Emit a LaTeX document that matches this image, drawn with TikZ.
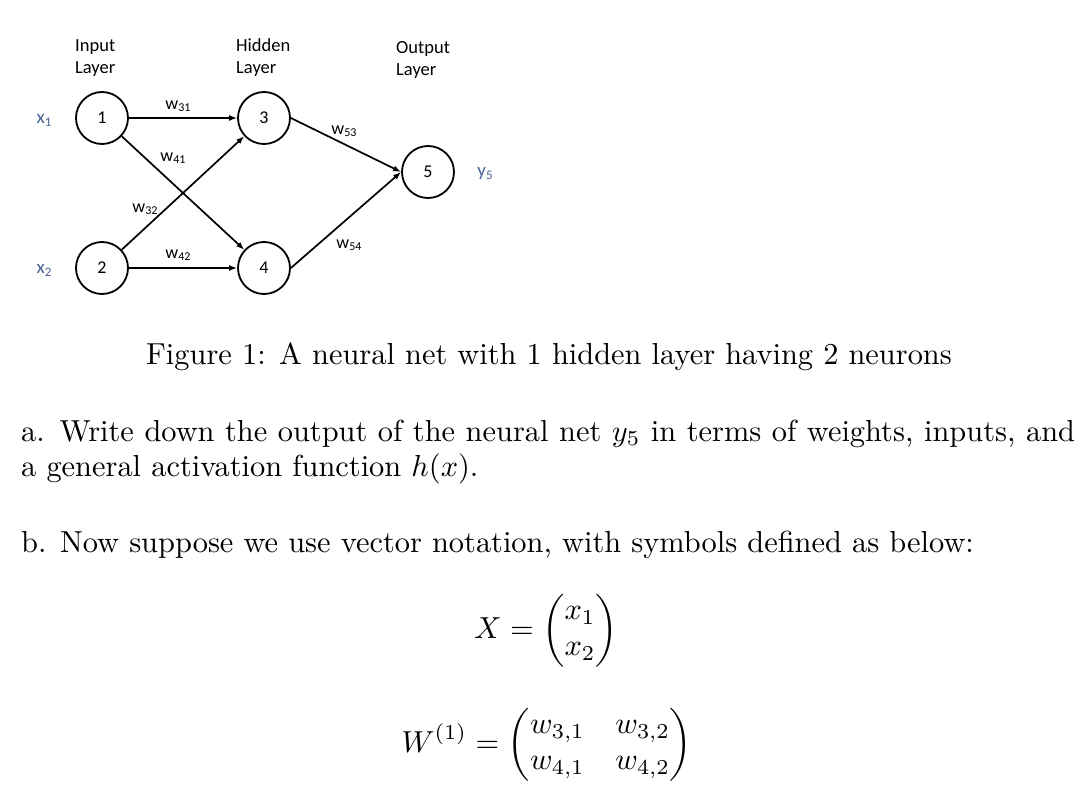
\documentclass[tikz,border=0pt]{standalone}
\usepackage{amsmath}
\usepackage{graphicx}
\usepackage{fontspec}
\newfontfamily\carl{Carlito}
\usetikzlibrary{arrows.meta}
\definecolor{xblue}{RGB}{70,96,150}
\newcommand\wsub[1]{w\raisebox{-2.5pt}{\fontsize{12}{12}\selectfont#1}}
\newcommand\sbx[1]{\scalebox{3.04}{#1}}
\tikzset{
 neuron/.style={circle, draw, line width=1.8pt, minimum size=52pt, inner sep=0pt, font=\carl\fontsize{18}{18}\selectfont},
 lbl/.style={font=\carl\fontsize{18.5}{21}\selectfont, anchor=base west, inner sep=0pt},
 wl/.style={font=\carl\fontsize{18}{18}\selectfont, inner sep=0pt},
 xl/.style={font=\carl\fontsize{19}{19}\selectfont, text=xblue, inner sep=0pt},
 conn/.style={line width=1.7pt, -{Latex[length=8pt,width=6pt]}},
 body/.style={font=\normalsize, inner sep=0pt, anchor=base west},
 eqn/.style={font=\normalsize, inner sep=0pt, anchor=base}
}
\begin{document}
\begin{tikzpicture}[x=1pt,y=-1pt]
\useasboundingbox[fill=white] (0,0) rectangle (1092,808);
% layer labels
\node[lbl] (il1) at (75,52) {Input};
\node[lbl] (il2) at (75,74) {Layer};
\node[lbl] (hl1) at (236,52) {Hidden};
\node[lbl] (hl2) at (236,74) {Layer};
\node[lbl] (ol1) at (396,53) {Output};
\node[lbl] (ol2) at (396,75) {Layer};
% neurons
\node[neuron] (n1) at (102,118) {1};
\node[neuron] (n2) at (102,268) {2};
\node[neuron] (n3) at (264,118) {3};
\node[neuron] (n4) at (264,268) {4};
\node[neuron] (n5) at (428,172) {5};
% inputs / output
\node[xl] (x1) at (44,120) {x\raisebox{-3pt}{\fontsize{13}{13}\selectfont 1}};
\node[xl] (x2) at (44,270) {x\raisebox{-3pt}{\fontsize{13}{13}\selectfont 2}};
\node[xl] (y5) at (485,174) {y\raisebox{-3pt}{\fontsize{13}{13}\selectfont 5}};
% connectors
\draw[conn] (n1) -- (n3);
\draw[conn] (n1) -- (n4);
\draw[conn] (n2) -- (n3);
\draw[conn] (n2) -- (n4);
\draw[conn] (n3.east) -- (n5.west);
\draw[conn] (n4.east) -- (n5.west);
% weights
\node[wl] (w31) at (178,106) {\wsub{31}};
\node[wl] (w41) at (173,158) {\wsub{41}};
\node[wl] (w32) at (145,209) {\wsub{32}};
\node[wl] (w42) at (178,255) {\wsub{42}};
\node[wl] (w53) at (344,131) {\wsub{53}};
\node[wl] (w54) at (349,245) {\wsub{54}};
% caption and text
\node[eqn] (cap) at (549,364) {\sbx{Figure 1: A neural net with 1 hidden layer having 2 neurons}};
\node[body] (a1) at (21,441) {\sbx{\makebox[346.7pt][s]{a. Write down the output of the neural net $y_5$ in terms of weights, inputs, and}}};
\node[body] (a2) at (21,476) {\sbx{a general activation function $h(x)$.}};
\node[body] (b1) at (21,552) {\sbx{b. Now suppose we use vector notation, with symbols defined as below:}};
\node[eqn] (eq1) at (546,638) {\sbx{$\displaystyle X = \begin{pmatrix} x_1\\ x_2\end{pmatrix}$}};
\node[eqn] (eq2) at (547,752) {\sbx{$\displaystyle W^{(1)} = \begin{pmatrix} w_{3,1} & w_{3,2}\\ w_{4,1} & w_{4,2}\end{pmatrix}$}};
\end{tikzpicture}
\end{document}
